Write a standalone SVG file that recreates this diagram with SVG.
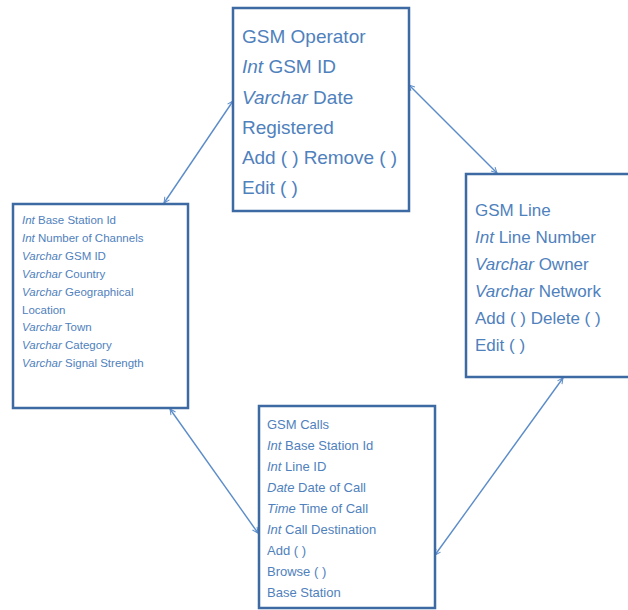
<svg xmlns="http://www.w3.org/2000/svg" width="628" height="610" viewBox="0 0 628 610">
<defs>
<style>
.box{fill:#fff;stroke:#3d6aa3;stroke-width:2.5}
.t{font-family:"Liberation Sans",Arial,sans-serif;fill:#4f81bd}
.i{font-style:italic}
.conn{stroke:#5b8cc9;stroke-width:1.4;fill:none;marker-start:url(#ah);marker-end:url(#ah)}
</style>
<marker id="ah" viewBox="0 0 10 10" refX="9" refY="5" markerWidth="7" markerHeight="7" markerUnits="userSpaceOnUse" orient="auto-start-reverse">
<path d="M1,1 L9,5 L1,9" fill="none" stroke="#5b8cc9" stroke-width="1.4"/>
</marker>
</defs>
<rect width="628" height="610" fill="#fff"/>
<g id="connectors">
<line class="conn" x1="409" y1="85" x2="497" y2="173"/>
<line class="conn" x1="233" y1="101" x2="164" y2="203"/>
<line class="conn" x1="170" y1="409" x2="258" y2="533"/>
<line class="conn" x1="563" y1="378" x2="435" y2="555"/>
</g>
<g id="gsm-operator">
<rect class="box" x="233" y="8" width="176" height="203"/>
<g class="t" font-size="19">
<text x="242" y="43">GSM Operator</text>
<text x="242" y="73"><tspan class="i">Int</tspan> GSM ID</text>
<text x="242" y="104"><tspan class="i">Varchar</tspan> Date</text>
<text x="242" y="134">Registered</text>
<text x="242" y="164" textLength="155">Add ( ) Remove ( )</text>
<text x="242" y="194">Edit ( )</text>
</g>
</g>
<g id="gsm-line">
<rect class="box" x="466" y="174" width="170" height="203"/>
<g class="t" font-size="17">
<text x="475" y="216">GSM Line</text>
<text x="475" y="243"><tspan class="i">Int</tspan> Line Number</text>
<text x="475" y="270"><tspan class="i">Varchar</tspan> Owner</text>
<text x="475" y="297"><tspan class="i">Varchar</tspan> Network</text>
<text x="475" y="324">Add ( ) Delete ( )</text>
<text x="475" y="351">Edit ( )</text>
</g>
</g>
<g id="base-station">
<rect class="box" x="13" y="204" width="175" height="204"/>
<g class="t" font-size="11.5">
<text x="22" y="224"><tspan class="i">Int</tspan> Base Station Id</text>
<text x="22" y="242"><tspan class="i">Int</tspan> Number of Channels</text>
<text x="22" y="260"><tspan class="i">Varchar</tspan> GSM ID</text>
<text x="22" y="278"><tspan class="i">Varchar</tspan> Country</text>
<text x="22" y="296"><tspan class="i">Varchar</tspan> Geographical</text>
<text x="22" y="314">Location</text>
<text x="22" y="331"><tspan class="i">Varchar</tspan> Town</text>
<text x="22" y="349"><tspan class="i">Varchar</tspan> Category</text>
<text x="22" y="367"><tspan class="i">Varchar</tspan> Signal Strength</text>
</g>
</g>
<g id="gsm-calls">
<rect class="box" x="259" y="406" width="176" height="202"/>
<g class="t" font-size="13">
<text x="267" y="429">GSM Calls</text>
<text x="267" y="450"><tspan class="i">Int</tspan> Base Station Id</text>
<text x="267" y="471"><tspan class="i">Int</tspan> Line ID</text>
<text x="267" y="492"><tspan class="i">Date</tspan> Date of Call</text>
<text x="267" y="513"><tspan class="i">Time</tspan> Time of Call</text>
<text x="267" y="534"><tspan class="i">Int</tspan> Call Destination</text>
<text x="267" y="555">Add ( )</text>
<text x="267" y="576">Browse ( )</text>
<text x="267" y="597">Base Station</text>
</g>
</g>
</svg>
